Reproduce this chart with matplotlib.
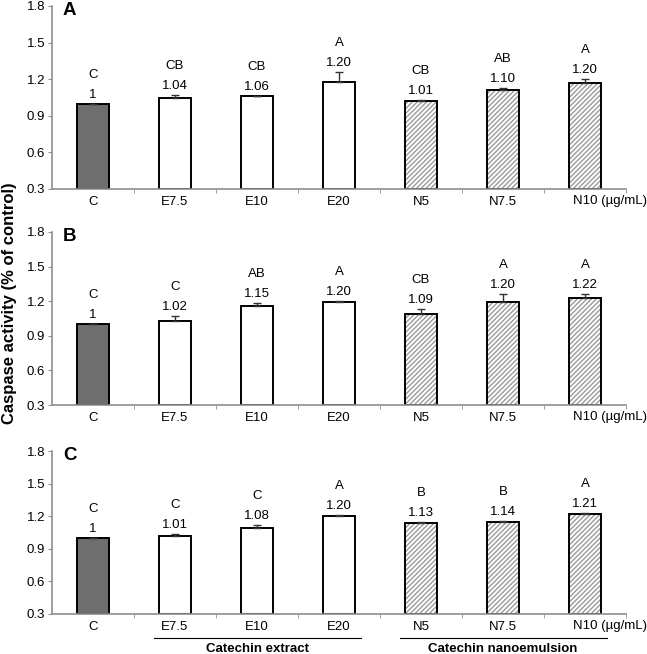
import matplotlib
matplotlib.use("Agg")
import matplotlib.pyplot as plt
import numpy as np

plt.rcParams['font.family'] = ['Liberation Sans', 'DejaVu Sans']
plt.rcParams['hatch.linewidth'] = 1.0

categories = ['C', 'E7.5', 'E10', 'E20', 'N5', 'N7.5', 'N10']
unit_label = '(µg/mL)'

panel_names = ['A', 'B', 'C']

heights_A = [1.00, 1.045, 1.06, 1.175, 1.025, 1.115, 1.165]
errors_A = [0.0, 0.022, 0.006, 0.08, 0.004, 0.015, 0.035]
values_A = ['1', '1.04', '1.06', '1.20', '1.01', '1.10', '1.20']
letters_A = ['C', 'CB', 'CB', 'A', 'CB', 'AB', 'A']

heights_B = [1.00, 1.025, 1.155, 1.19, 1.09, 1.19, 1.225]
errors_B = [0.0, 0.045, 0.03, 0.01, 0.045, 0.07, 0.035]
values_B = ['1', '1.02', '1.15', '1.20', '1.09', '1.20', '1.22']
letters_B = ['C', 'C', 'AB', 'A', 'CB', 'A', 'A']

heights_C = [1.00, 1.015, 1.09, 1.205, 1.14, 1.145, 1.22]
errors_C = [0.0, 0.02, 0.025, 0.01, 0.005, 0.01, 0.012]
values_C = ['1', '1.01', '1.08', '1.20', '1.13', '1.14', '1.21']
letters_C = ['C', 'C', 'C', 'A', 'B', 'B', 'A']

group_names = ['Catechin extract', 'Catechin nanoemulsion']
group_members = [(1, 3), (4, 6)]

y_ticks = [0.3, 0.6, 0.9, 1.2, 1.5, 1.8]
y_label = 'Caspase activity (% of control)'

W, H = 647, 654
fig = plt.figure(figsize=(W / 100, H / 100), dpi=100)

# axes boxes in pixels: (left, top, right, bottom)
boxes = [(52, 6, 626, 189), (52, 232, 626, 405), (52, 451, 626, 614)]

panels = [
    (heights_A, errors_A, values_A, letters_A),
    (heights_B, errors_B, values_B, letters_B),
    (heights_C, errors_C, values_C, letters_C),
]

spine_col = '#8f8f8f'
ctrl_col = '#6e6e6e'
hatch_col = '#9a9a9a'
fs = 9.5

for k, ((l, t, r, b), (hts, errs, vals, lets)) in enumerate(zip(boxes, panels)):
    ax = fig.add_axes([l / W, 1 - b / H, (r - l) / W, (b - t) / H])
    x = np.arange(len(categories))
    hts = np.array(hts)
    errs = np.array(errs)
    base = 0.3
    ax.bar(x[:1], hts[:1] - base, bottom=base, width=0.4, color=ctrl_col,
           edgecolor='black', linewidth=1.4, zorder=3)
    ax.bar(x[1:4], hts[1:4] - base, bottom=base, width=0.4, color='white',
           edgecolor='black', linewidth=1.4, zorder=3)
    ax.bar(x[4:], hts[4:] - base, bottom=base, width=0.4, color='white',
           edgecolor=hatch_col, hatch='///////', linewidth=0, zorder=3)
    ax.bar(x[4:], hts[4:] - base, bottom=base, width=0.4, color='none',
           edgecolor='black', linewidth=1.4, zorder=4)
    ax.errorbar(x, hts, yerr=[np.zeros_like(errs), errs], fmt='none',
                ecolor='#333333', elinewidth=1.0, capsize=3, capthick=1.0, zorder=5)

    for i in range(len(categories)):
        top = hts[i] + errs[i]
        ax.annotate(vals[i], xy=(x[i], top), xytext=(0, 9 * 0.72),
                    textcoords='offset points', ha='center', va='center',
                    fontsize=fs, zorder=6)
        ax.annotate(lets[i], xy=(x[i], top), xytext=(0, 29 * 0.72),
                    textcoords='offset points', ha='center', va='center',
                    fontsize=fs, zorder=6)

    ax.set_xlim(-0.5, len(categories) - 0.5)
    ax.set_ylim(0.3, 1.8)
    ax.set_yticks(y_ticks)
    ax.set_yticklabels([f'{v:.1f}' for v in y_ticks], fontsize=fs)
    ax.set_xticks(x)
    labels = list(categories)
    labels[-1] = ''
    ax.set_xticklabels(labels, fontsize=fs)
    ax.tick_params(axis='x', which='major', length=0, pad=5)
    ax.set_xticks(np.arange(0.5, len(categories), 1.0), minor=True)
    ax.tick_params(axis='x', which='minor', length=3, color=spine_col, direction='out')
    ax.tick_params(axis='y', length=3, color=spine_col, pad=2)
    ax.annotate(categories[-1] + ' ' + unit_label,
                xy=(x[-1], 0), xycoords=ax.get_xaxis_transform(),
                xytext=(-12 * 0.72, -5 * 0.72 - 1), textcoords='offset points',
                ha='left', va='top', fontsize=fs, annotation_clip=False)
    for s in ['top', 'right']:
        ax.spines[s].set_visible(False)
    for s in ['left', 'bottom']:
        ax.spines[s].set_color(spine_col)
        ax.spines[s].set_linewidth(1.2)
    ax.spines['bottom'].set_zorder(6)

    ax.text(0.019, 1.0 - 9.0 / (b - t), panel_names[k], transform=ax.transAxes,
            fontsize=13.5, fontweight='bold', ha='left', va='baseline')

    if k == 2:
        tr = ax.get_xaxis_transform()
        yl = -23.7 / (b - t)
        yt = -35.5 / (b - t)
        for name, (i0, i1) in zip(group_names, group_members):
            ax.plot([i0 - 0.26, i1 + 0.27], [yl, yl], transform=tr, color='black',
                    linewidth=0.8, clip_on=False)
            ax.text((i0 + i1) / 2, yt, name, transform=tr, ha='center', va='center',
                    fontsize=fs, fontweight='bold')

fig.text(10 / W, 1 - 303 / H, y_label, rotation=90, ha='center', va='center',
         fontsize=12, fontweight='bold')

fig.savefig('out.png', dpi=100)
